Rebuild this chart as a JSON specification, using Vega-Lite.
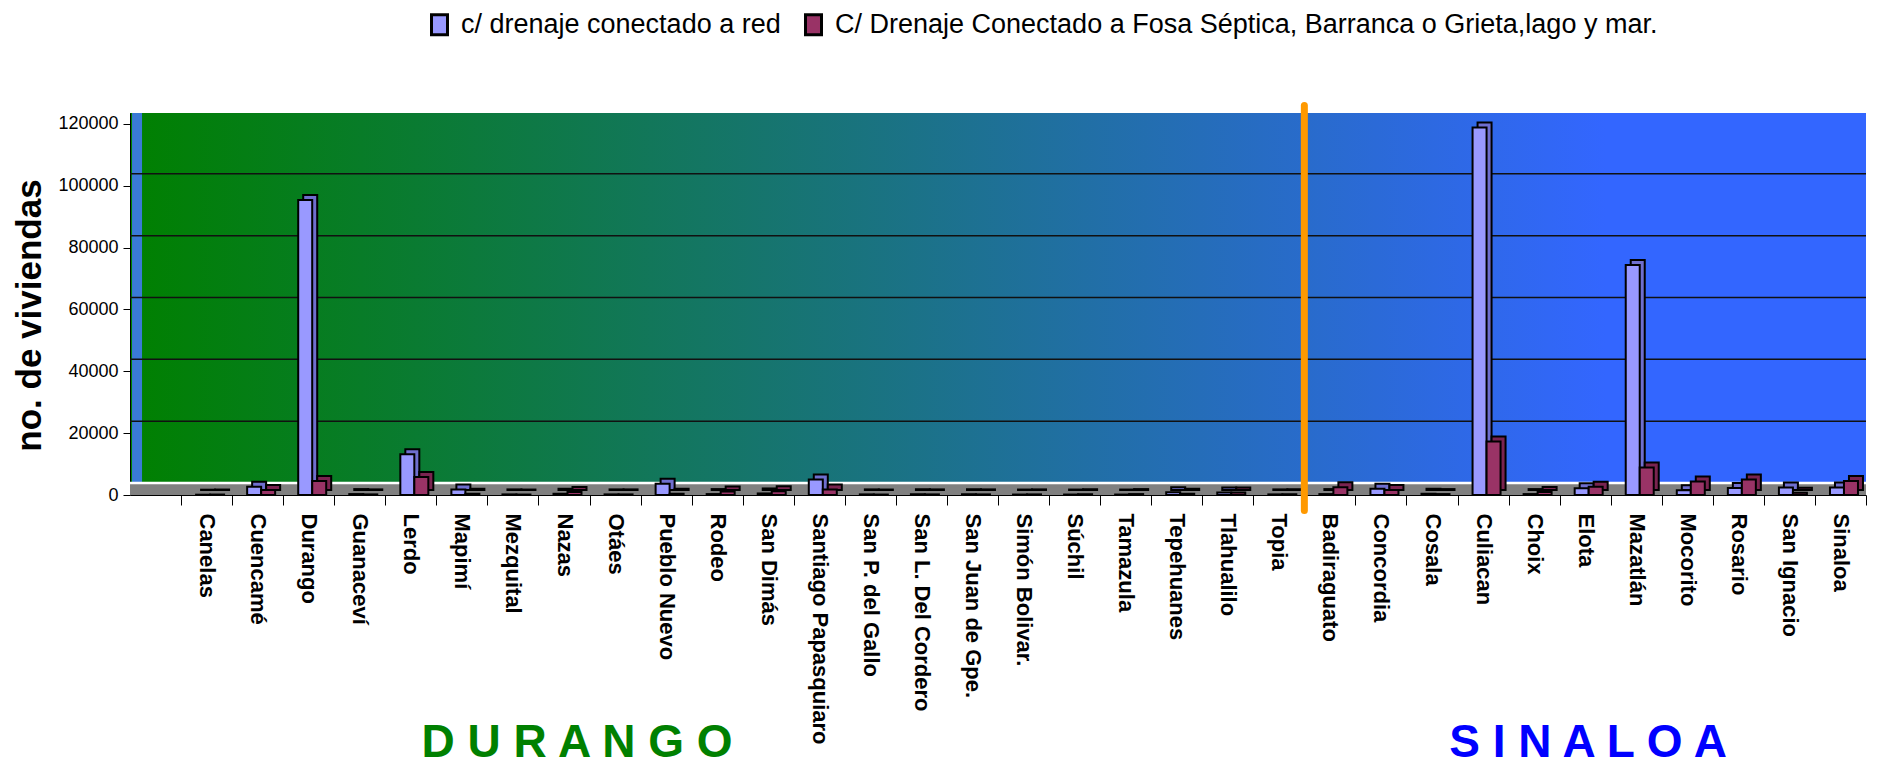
{
  "$schema": "https://vega.github.io/schema/vega-lite/v6.json",
  "width": 1736,
  "height": 382,
  "autosize": {"type": "none"},
  "padding": {"left": 130, "top": 113, "right": 11, "bottom": 273},
  "background": "white",
  "config": {
    "font": "Liberation Sans",
    "view": {
      "stroke": null,
      "fill": {"gradient": "linear", "x1": 0, "y1": 0, "x2": 1, "y2": 0,
        "stops": [{"offset": 0, "color": "#008000"}, {"offset": 0.85, "color": "#3366FF"}, {"offset": 1, "color": "#3366FF"}]}
    }
  },
  "data": {"values": [
    {"municipio": "Canelas", "serie": "c/ drenaje conectado a red", "viviendas": 100},
    {"municipio": "Canelas", "serie": "C/ Drenaje Conectado a Fosa Séptica, Barranca o Grieta,lago y mar.", "viviendas": 150},
    {"municipio": "Cuencamé", "serie": "c/ drenaje conectado a red", "viviendas": 2700},
    {"municipio": "Cuencamé", "serie": "C/ Drenaje Conectado a Fosa Séptica, Barranca o Grieta,lago y mar.", "viviendas": 1600},
    {"municipio": "Durango", "serie": "c/ drenaje conectado a red", "viviendas": 95400},
    {"municipio": "Durango", "serie": "C/ Drenaje Conectado a Fosa Séptica, Barranca o Grieta,lago y mar.", "viviendas": 4500},
    {"municipio": "Guanaceví", "serie": "c/ drenaje conectado a red", "viviendas": 300},
    {"municipio": "Guanaceví", "serie": "C/ Drenaje Conectado a Fosa Séptica, Barranca o Grieta,lago y mar.", "viviendas": 200},
    {"municipio": "Lerdo", "serie": "c/ drenaje conectado a red", "viviendas": 13200},
    {"municipio": "Lerdo", "serie": "C/ Drenaje Conectado a Fosa Séptica, Barranca o Grieta,lago y mar.", "viviendas": 5800},
    {"municipio": "Mapimí", "serie": "c/ drenaje conectado a red", "viviendas": 1800},
    {"municipio": "Mapimí", "serie": "C/ Drenaje Conectado a Fosa Séptica, Barranca o Grieta,lago y mar.", "viviendas": 400},
    {"municipio": "Mezquital", "serie": "c/ drenaje conectado a red", "viviendas": 200},
    {"municipio": "Mezquital", "serie": "C/ Drenaje Conectado a Fosa Séptica, Barranca o Grieta,lago y mar.", "viviendas": 150},
    {"municipio": "Nazas", "serie": "c/ drenaje conectado a red", "viviendas": 400},
    {"municipio": "Nazas", "serie": "C/ Drenaje Conectado a Fosa Séptica, Barranca o Grieta,lago y mar.", "viviendas": 1000},
    {"municipio": "Otáes", "serie": "c/ drenaje conectado a red", "viviendas": 200},
    {"municipio": "Otáes", "serie": "C/ Drenaje Conectado a Fosa Séptica, Barranca o Grieta,lago y mar.", "viviendas": 200},
    {"municipio": "Pueblo Nuevo", "serie": "c/ drenaje conectado a red", "viviendas": 3600},
    {"municipio": "Pueblo Nuevo", "serie": "C/ Drenaje Conectado a Fosa Séptica, Barranca o Grieta,lago y mar.", "viviendas": 400},
    {"municipio": "Rodeo", "serie": "c/ drenaje conectado a red", "viviendas": 300},
    {"municipio": "Rodeo", "serie": "C/ Drenaje Conectado a Fosa Séptica, Barranca o Grieta,lago y mar.", "viviendas": 1100},
    {"municipio": "San Dimás", "serie": "c/ drenaje conectado a red", "viviendas": 500},
    {"municipio": "San Dimás", "serie": "C/ Drenaje Conectado a Fosa Séptica, Barranca o Grieta,lago y mar.", "viviendas": 1200},
    {"municipio": "Santiago Papasquiaro", "serie": "c/ drenaje conectado a red", "viviendas": 5000},
    {"municipio": "Santiago Papasquiaro", "serie": "C/ Drenaje Conectado a Fosa Séptica, Barranca o Grieta,lago y mar.", "viviendas": 1800},
    {"municipio": "San P. del Gallo", "serie": "c/ drenaje conectado a red", "viviendas": 200},
    {"municipio": "San P. del Gallo", "serie": "C/ Drenaje Conectado a Fosa Séptica, Barranca o Grieta,lago y mar.", "viviendas": 150},
    {"municipio": "San L. Del Cordero", "serie": "c/ drenaje conectado a red", "viviendas": 250},
    {"municipio": "San L. Del Cordero", "serie": "C/ Drenaje Conectado a Fosa Séptica, Barranca o Grieta,lago y mar.", "viviendas": 200},
    {"municipio": "San Juan de Gpe.", "serie": "c/ drenaje conectado a red", "viviendas": 250},
    {"municipio": "San Juan de Gpe.", "serie": "C/ Drenaje Conectado a Fosa Séptica, Barranca o Grieta,lago y mar.", "viviendas": 200},
    {"municipio": "Simón Bolivar.", "serie": "c/ drenaje conectado a red", "viviendas": 150},
    {"municipio": "Simón Bolivar.", "serie": "C/ Drenaje Conectado a Fosa Séptica, Barranca o Grieta,lago y mar.", "viviendas": 200},
    {"municipio": "Súchil", "serie": "c/ drenaje conectado a red", "viviendas": 150},
    {"municipio": "Súchil", "serie": "C/ Drenaje Conectado a Fosa Séptica, Barranca o Grieta,lago y mar.", "viviendas": 250},
    {"municipio": "Tamazula", "serie": "c/ drenaje conectado a red", "viviendas": 150},
    {"municipio": "Tamazula", "serie": "C/ Drenaje Conectado a Fosa Séptica, Barranca o Grieta,lago y mar.", "viviendas": 300},
    {"municipio": "Tepehuanes", "serie": "c/ drenaje conectado a red", "viviendas": 900},
    {"municipio": "Tepehuanes", "serie": "C/ Drenaje Conectado a Fosa Séptica, Barranca o Grieta,lago y mar.", "viviendas": 400},
    {"municipio": "Tlahualilo", "serie": "c/ drenaje conectado a red", "viviendas": 800},
    {"municipio": "Tlahualilo", "serie": "C/ Drenaje Conectado a Fosa Séptica, Barranca o Grieta,lago y mar.", "viviendas": 800},
    {"municipio": "Topia", "serie": "c/ drenaje conectado a red", "viviendas": 200},
    {"municipio": "Topia", "serie": "C/ Drenaje Conectado a Fosa Séptica, Barranca o Grieta,lago y mar.", "viviendas": 250},
    {"municipio": "Badiraguato", "serie": "c/ drenaje conectado a red", "viviendas": 300},
    {"municipio": "Badiraguato", "serie": "C/ Drenaje Conectado a Fosa Séptica, Barranca o Grieta,lago y mar.", "viviendas": 2500},
    {"municipio": "Concordia", "serie": "c/ drenaje conectado a red", "viviendas": 2000},
    {"municipio": "Concordia", "serie": "C/ Drenaje Conectado a Fosa Séptica, Barranca o Grieta,lago y mar.", "viviendas": 1600},
    {"municipio": "Cosala", "serie": "c/ drenaje conectado a red", "viviendas": 400},
    {"municipio": "Cosala", "serie": "C/ Drenaje Conectado a Fosa Séptica, Barranca o Grieta,lago y mar.", "viviendas": 300},
    {"municipio": "Culiacan", "serie": "c/ drenaje conectado a red", "viviendas": 118900},
    {"municipio": "Culiacan", "serie": "C/ Drenaje Conectado a Fosa Séptica, Barranca o Grieta,lago y mar.", "viviendas": 17300},
    {"municipio": "Choix", "serie": "c/ drenaje conectado a red", "viviendas": 300},
    {"municipio": "Choix", "serie": "C/ Drenaje Conectado a Fosa Séptica, Barranca o Grieta,lago y mar.", "viviendas": 1000},
    {"municipio": "Elota", "serie": "c/ drenaje conectado a red", "viviendas": 2200},
    {"municipio": "Elota", "serie": "C/ Drenaje Conectado a Fosa Séptica, Barranca o Grieta,lago y mar.", "viviendas": 2700},
    {"municipio": "Mazatlán", "serie": "c/ drenaje conectado a red", "viviendas": 74400},
    {"municipio": "Mazatlán", "serie": "C/ Drenaje Conectado a Fosa Séptica, Barranca o Grieta,lago y mar.", "viviendas": 8900},
    {"municipio": "Mocorito", "serie": "c/ drenaje conectado a red", "viviendas": 1500},
    {"municipio": "Mocorito", "serie": "C/ Drenaje Conectado a Fosa Séptica, Barranca o Grieta,lago y mar.", "viviendas": 4400},
    {"municipio": "Rosario", "serie": "c/ drenaje conectado a red", "viviendas": 2300},
    {"municipio": "Rosario", "serie": "C/ Drenaje Conectado a Fosa Séptica, Barranca o Grieta,lago y mar.", "viviendas": 5000},
    {"municipio": "San Ignacio", "serie": "c/ drenaje conectado a red", "viviendas": 2400},
    {"municipio": "San Ignacio", "serie": "C/ Drenaje Conectado a Fosa Séptica, Barranca o Grieta,lago y mar.", "viviendas": 700},
    {"municipio": "Sinaloa", "serie": "c/ drenaje conectado a red", "viviendas": 2400},
    {"municipio": "Sinaloa", "serie": "C/ Drenaje Conectado a Fosa Séptica, Barranca o Grieta,lago y mar.", "viviendas": 4500}
  ]},
  "layer": [
    {
      "data": {"values": [{}]},
      "mark": {"type": "rule", "color": "#3A7AD6", "strokeWidth": 10},
      "encoding": {
        "x": {"datum": "Canelas", "type": "nominal", "bandPosition": -0.862},
        "y": {"datum": 0, "type": "quantitative"},
        "y2": {"datum": 123557}
      }
    },
    {
      "data": {"values": [{"nivel": 20000}, {"nivel": 40000}, {"nivel": 60000}, {"nivel": 80000}, {"nivel": 100000}]},
      "mark": {"type": "rule", "color": "#111111", "strokeWidth": 1.5, "yOffset": -12},
      "encoding": {"y": {"field": "nivel", "type": "quantitative"}}
    },
    {
      "data": {"values": [{}]},
      "mark": {"type": "rule", "color": "#808080", "strokeWidth": 11, "yOffset": -5.5},
      "encoding": {"y": {"datum": 0, "type": "quantitative"}}
    },
    {
      "data": {"values": [{}]},
      "mark": {"type": "rule", "color": "white", "strokeWidth": 2.5, "yOffset": -12},
      "encoding": {"y": {"datum": 0, "type": "quantitative"}}
    },
    {
      "transform": [{"filter": "datum.serie === 'c/ drenaje conectado a red'"}],
      "mark": {"type": "bar", "width": 14, "xOffset": 1.5, "yOffset": -5, "y2Offset": -5, "color": "#6F6FCF", "stroke": "black", "strokeWidth": 2},
      "encoding": {
        "x": {"field": "municipio", "type": "nominal"},
        "y": {"field": "viviendas", "type": "quantitative"}
      }
    },
    {
      "transform": [{"filter": "datum.serie === 'c/ drenaje conectado a red'"}],
      "mark": {"type": "bar", "width": 14, "xOffset": -3.5, "stroke": "black", "strokeWidth": 2},
      "encoding": {
        "x": {
          "field": "municipio", "type": "nominal",
          "scale": {
            "domain": ["Canelas", "Cuencamé", "Durango", "Guanaceví", "Lerdo", "Mapimí", "Mezquital", "Nazas", "Otáes", "Pueblo Nuevo", "Rodeo", "San Dimás", "Santiago Papasquiaro", "San P. del Gallo", "San L. Del Cordero", "San Juan de Gpe.", "Simón Bolivar.", "Súchil", "Tamazula", "Tepehuanes", "Tlahualilo", "Topia", "Badiraguato", "Concordia", "Cosala", "Culiacan", "Choix", "Elota", "Mazatlán", "Mocorito", "Rosario", "San Ignacio", "Sinaloa"],
            "paddingInner": 0, "paddingOuter": 0.5, "align": 1
          },
          "axis": {
            "title": null, "labelAngle": 90, "labelAlign": "left", "labelBaseline": "middle",
            "labelFontSize": 22, "labelFontWeight": "bold", "labelColor": "black",
            "labelPadding": 8, "tickSize": 10, "tickColor": "black", "tickBand": "extent", "domainColor": "black",
            "labelLimit": 0, "labelOverlap": false
          }
        },
        "y": {
          "field": "viviendas", "type": "quantitative",
          "scale": {"domain": [0, 123557], "nice": false},
          "axis": {
            "title": "no. de viviendas", "values": [0, 20000, 40000, 60000, 80000, 100000, 120000], "format": "d",
            "grid": false, "labelFontSize": 18, "labelColor": "black", "tickSize": 7, "tickColor": "black",
            "domainColor": "black", "labelPadding": 5, "titleFontSize": 35, "titleFontWeight": "bold",
            "titleColor": "black", "titleAngle": -90, "titleX": -90, "titleY": 202, "titleAlign": "center",
            "titleBaseline": "alphabetic"
          }
        },
        "color": {
          "field": "serie", "type": "nominal",
          "scale": {"domain": ["c/ drenaje conectado a red", "C/ Drenaje Conectado a Fosa Séptica, Barranca o Grieta,lago y mar."], "range": ["#9999FF", "#993366"]},
          "legend": {
            "orient": "none", "legendX": 296, "legendY": -102, "direction": "horizontal", "title": null,
            "labelFontSize": 27, "labelColor": "black", "labelLimit": 0,
            "symbolType": "M-0.8,-1H0.8V1H-0.8Z", "symbolSize": 400, "symbolStrokeColor": "black",
            "symbolStrokeWidth": 3, "labelOffset": 8, "columnPadding": 18, "symbolOpacity": 1
          }
        }
      }
    },
    {
      "transform": [{"filter": "datum.serie !== 'c/ drenaje conectado a red'"}],
      "mark": {"type": "bar", "width": 14, "xOffset": 15.5, "yOffset": -5, "y2Offset": -5, "color": "#7A2450", "stroke": "black", "strokeWidth": 2},
      "encoding": {
        "x": {"field": "municipio", "type": "nominal"},
        "y": {"field": "viviendas", "type": "quantitative"}
      }
    },
    {
      "transform": [{"filter": "datum.serie !== 'c/ drenaje conectado a red'"}],
      "mark": {"type": "bar", "width": 14, "xOffset": 10.5, "stroke": "black", "strokeWidth": 2},
      "encoding": {
        "x": {"field": "municipio", "type": "nominal"},
        "y": {"field": "viviendas", "type": "quantitative"},
        "color": {"field": "serie", "type": "nominal"}
      }
    },
    {
      "data": {"values": [{}]},
      "mark": {"type": "rule", "color": "#FF9900", "strokeWidth": 7, "strokeCap": "round"},
      "encoding": {
        "x": {"datum": "Badiraguato", "type": "nominal", "bandPosition": 0},
        "y": {"datum": 126000, "type": "quantitative"},
        "y2": {"datum": -5000}
      }
    },
    {
      "data": {"values": [{"estado": "D U R A N G O"}]},
      "mark": {"type": "text", "fontSize": 46, "fontWeight": "bold", "color": "#008000", "baseline": "alphabetic", "align": "center"},
      "encoding": {
        "x": {"datum": "Nazas", "type": "nominal", "bandPosition": 0.756},
        "y": {"datum": -84700, "type": "quantitative"},
        "text": {"field": "estado"}
      }
    },
    {
      "data": {"values": [{"estado": "S I N A L O A"}]},
      "mark": {"type": "text", "fontSize": 46, "fontWeight": "bold", "color": "#0000FF", "baseline": "alphabetic", "align": "center"},
      "encoding": {
        "x": {"datum": "Elota", "type": "nominal", "bandPosition": 0.556},
        "y": {"datum": -84700, "type": "quantitative"},
        "text": {"field": "estado"}
      }
    }
  ]
}
